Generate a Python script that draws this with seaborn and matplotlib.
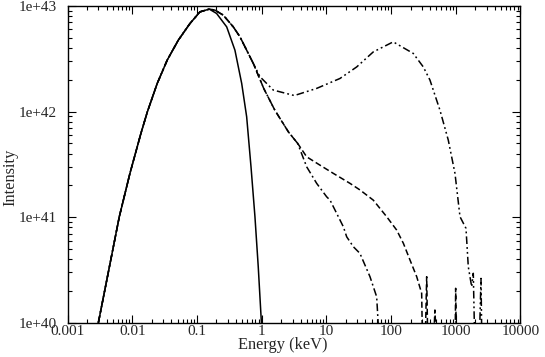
import numpy as np
import pandas as pd
import matplotlib
matplotlib.use("Agg")
import matplotlib.pyplot as plt
from matplotlib.ticker import FixedLocator, FixedFormatter, LogLocator, NullFormatter
import seaborn as sns

# INPUT VALUES
# common low-energy rise shared by all four spectra
rise_E = [0.00299, 0.0063, 0.0092, 0.0136, 0.0171, 0.0243, 0.0347, 0.0514, 0.078, 0.111, 0.155]
rise_I = [1.0e40, 1.01e41, 2.6e41, 6.22e41, 9.95e41, 1.85e42, 3.08e42, 4.75e42, 6.84e42, 8.81e42, 9.36e42]

# solid: thermal only
solid_E = [0.201, 0.288, 0.386, 0.491, 0.586, 0.684, 0.787, 0.885, 1.0]
solid_I = [8.51e42, 6.35e42, 3.82e42, 1.85e42, 8.93e41, 3.0e41, 1.01e41, 3.39e40, 9.0e39]

# shared just after the peak for the three comptonised spectra
shoulder_E = [0.19, 0.255, 0.364, 0.462, 0.586, 0.742]
shoulder_I = [9.14e42, 8.2e42, 6.35e42, 5.11e42, 3.82e42, 2.86e42]

# dashed + dash-dot run together down to ~3.5 keV
mid_E = [1.08, 1.6, 2.6, 3.6]
mid_I = [1.65e42, 1.03e42, 6.4e41, 5.0e41]

dashed_E = [4.96, 7.97, 12.8, 23.2, 33.1, 53.1, 85.5, 122, 155, 196, 249, 297, 308,
            334, 355, 372, 445, 476, 512, 972, 996, 1025]
dashed_I = [3.73e41, 3.11e41, 2.6e41, 2.09e41, 1.81e41, 1.45e41, 1.01e41, 7.55e40, 5.65e40,
            3.93e40, 2.73e40, 1.9e40, 5e39, 5e39, 2.73e40, 5e39, 5e39, 1.32e40, 5e39,
            5e39, 2.12e40, 5e39]

dashdot_E = [4.96, 7.08, 10.1, 11.4, 18.3, 20.6, 26.1, 33.0, 47.2, 59.9, 67.3]
dashdot_I = [3.0e41, 2.09e41, 1.56e41, 1.45e41, 8.11e40, 6.52e40, 5.25e40, 4.54e40,
             2.73e40, 1.76e40, 5e39]

dashdotdot_E = [0.942, 1.51, 3.2, 7.08, 16.2, 29.4, 53.1, 108, 220, 315, 399, 570, 766,
                972, 1162, 1438, 1561, 1761, 1865, 1981, 2286, 2454, 2543]
dashdotdot_I = [2.14e42, 1.6e42, 1.42e42, 1.66e42, 2.06e42, 2.65e42, 3.68e42, 4.58e42,
                3.56e42, 2.65e42, 1.99e42, 1.03e42, 5.37e41, 2.6e41, 1.01e41, 7.84e40,
                3.39e40, 2.19e40, 2.94e40, 5e39, 5e39, 2.63e40, 5e39]

xticks = [0.001, 0.01, 0.1, 1, 10, 100, 1000, 10000]
xticklabels = ["0.001", "0.01", "0.1", "1", "10", "100", "1000", "10000"]
yticks = [1e40, 1e41, 1e42, 1e43]
yticklabels = ["1e+40", "1e+41", "1e+42", "1e+43"]

# Begin Code
series = {
    "solid": (rise_E + solid_E, rise_I + solid_I, "-"),
    "dashed": (rise_E + shoulder_E + mid_E + dashed_E, rise_I + shoulder_I + mid_I + dashed_I,
               (0, (4, 2))),
    "dashdot": (rise_E + shoulder_E + mid_E + dashdot_E, rise_I + shoulder_I + mid_I + dashdot_I,
                (0, (5, 2, 1.2, 2))),
    "dashdotdot": (rise_E + shoulder_E + dashdotdot_E, rise_I + shoulder_I + dashdotdot_I,
                   (0, (5, 2, 1.2, 2, 1.2, 2))),
}

sns.set_style("ticks")
plt.rcParams["font.family"] = ["Liberation Serif", "DejaVu Serif"]

fig = plt.figure(figsize=(5.45, 3.57), dpi=100)
ax = fig.add_axes([0.124, 0.096, 0.831, 0.887])

for name, (E, I, ls) in series.items():
    df = pd.DataFrame({"E": E, "I": I})
    sns.lineplot(data=df, x="E", y="I", ax=ax, color="black", linewidth=1.1,
                 linestyle=ls, estimator=None, sort=False)

ax.set_xscale("log")
ax.set_yscale("log")
ax.set_xlim(1e-3, 1e4)
ax.set_ylim(1e40, 1e43)

ax.xaxis.set_major_locator(FixedLocator(xticks))
ax.xaxis.set_major_formatter(FixedFormatter(xticklabels))
ax.yaxis.set_major_locator(FixedLocator(yticks))
ax.yaxis.set_major_formatter(FixedFormatter(yticklabels))
ax.xaxis.set_minor_locator(LogLocator(base=10, subs=np.arange(2, 10), numticks=20))
ax.yaxis.set_minor_locator(LogLocator(base=10, subs=np.arange(2, 10), numticks=20))
ax.xaxis.set_minor_formatter(NullFormatter())
ax.yaxis.set_minor_formatter(NullFormatter())

ax.tick_params(which="both", direction="in", top=True, right=True, labelsize=11,
               color="black", width=0.8)
ax.tick_params(which="major", length=5.8)
ax.tick_params(which="minor", length=3.1)
ax.tick_params(axis="x", which="both", pad=1.5)
ax.tick_params(axis="y", which="both", pad=7.5)
for s in ax.spines.values():
    s.set_linewidth(1.0)
    s.set_color("black")

ax.set_xlabel("Energy (keV)", fontsize=11.8)
ax.set_ylabel("Intensity", fontsize=11.8)
ax.xaxis.set_label_coords(0.4745, -0.044)
ax.yaxis.set_label_coords(-0.108, 0.46)

fig.savefig("out.png", dpi=100)
